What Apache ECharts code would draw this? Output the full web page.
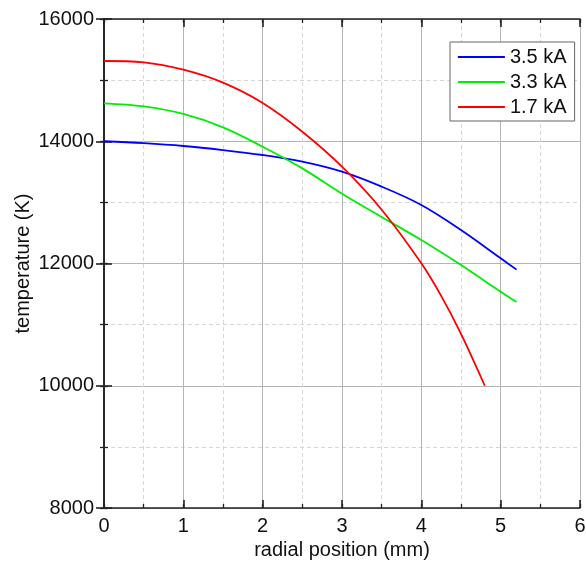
<!DOCTYPE html>
<html>
<head>
<meta charset="utf-8">
<script src="https://cdn.jsdelivr.net/npm/echarts@6/dist/echarts.min.js"></script>
<style>html,body{margin:0;padding:0;background:#fff}#c{width:586px;height:564px}</style>
</head>
<body>
<div id="c"></div>
<script>
const seriesNames = ['3.5 kA', '3.3 kA', '1.7 kA'];
const xBlue  = [0, 0.5, 1, 1.5, 2, 2.5, 3, 3.5, 4, 4.5, 5, 5.2];
const yBlue  = [14000, 13968, 13922, 13856, 13775, 13666, 13502, 13257, 12957, 12548, 12085, 11900];
const xGreen = [0, 0.5, 1, 1.5, 2, 2.5, 3, 3.5, 4, 4.5, 5, 5.2];
const yGreen = [14620, 14570, 14446, 14228, 13911, 13556, 13140, 12760, 12384, 11975, 11539, 11370];
const xRed   = [0, 0.5, 1, 1.5, 2, 2.5, 3, 3.5, 4, 4.25, 4.5, 4.8];
const yRed   = [15313, 15290, 15170, 14958, 14626, 14156, 13584, 12880, 12003, 11470, 10850, 10000];
const xTicks = [0, 1, 2, 3, 4, 5, 6];
const yTicks = [8000, 10000, 12000, 14000, 16000];

const pairs = (xs, ys) => xs.map((x, i) => [x, ys[i]]);
const FONT = 'Liberation Sans, Arial, sans-serif';
const chart = echarts.init(document.getElementById('c'), null, {renderer: 'canvas'});

const majorSplit = {show: true, lineStyle: {color: '#b4b4b4', width: 1, type: 'solid'}};
const minorSplit = {show: true, lineStyle: {color: '#d6d6d6', width: 1, type: [4, 3]}};
const axLine = {show: true, lineStyle: {color: '#222', width: 1.6}};
const tick = {show: true, inside: true, length: 8, lineStyle: {color: '#222', width: 1.6}};
const smallTick = {show: true, inside: true, length: 4, lineStyle: {color: '#222', width: 1.3}};

const xMin = xTicks[0], xMax = xTicks[xTicks.length - 1];
const yMin = yTicks[0], yMax = yTicks[yTicks.length - 1];
const xBase = {type: 'value', min: xMin, max: xMax, interval: 1};
const yBase = {type: 'value', min: yMin, max: yMax, interval: 2000};
const hidden = {axisLabel: {show: false}, splitLine: {show: false}};
const minorX = pos => ({type: 'value', min: xMin, max: xMax, interval: 0.5, position: pos,
  axisLine: {show: false}, axisTick: smallTick, axisLabel: {show: false}, splitLine: {show: false}});
const minorY = pos => ({type: 'value', min: yMin, max: yMax, interval: 1000, position: pos,
  axisLine: {show: false}, axisTick: smallTick, axisLabel: {show: false}, splitLine: {show: false}});

chart.setOption({
  animation: false,
  backgroundColor: '#fff',
  grid: {left: 104, right: 6, top: 19, bottom: 56, containLabel: false, outerBoundsMode: 'none'},
  legend: {
    data: seriesNames,
    orient: 'vertical',
    left: 450, top: 42,
    padding: [5, 8, 4, 7],
    itemWidth: 47, itemHeight: 20, itemGap: 5,
    borderColor: '#666', borderWidth: 1, borderRadius: 0,
    backgroundColor: '#fff',
    itemStyle: {opacity: 0},
    lineStyle: {width: 1.8, opacity: 1},
    textStyle: {fontFamily: FONT, fontSize: 20, color: '#111', lineHeight: 20}
  },
  xAxis: [
    Object.assign({}, xBase, {
      position: 'bottom',
      name: 'radial position (mm)', nameLocation: 'middle', nameGap: 28,
      nameTextStyle: {fontFamily: FONT, fontSize: 20, color: '#111'},
      axisLine: axLine, axisTick: tick, minorTick: {show: false, splitNumber: 2},
      axisLabel: {fontFamily: FONT, fontSize: 20, color: '#111', margin: 8},
      splitLine: majorSplit, minorSplitLine: minorSplit
    }),
    Object.assign({}, xBase, hidden, {position: 'top', axisLine: axLine, axisTick: tick}),
    minorX('bottom'),
    minorX('top')
  ],
  yAxis: [
    Object.assign({}, yBase, {
      position: 'left',
      name: 'temperature (K)', nameLocation: 'middle', nameGap: 71, nameRotate: 90,
      nameMoveOverlap: false,
      nameTextStyle: {fontFamily: FONT, fontSize: 20, color: '#111'},
      axisLine: axLine, axisTick: tick, minorTick: {show: false, splitNumber: 2},
      axisLabel: {fontFamily: FONT, fontSize: 20, color: '#111', margin: 10, formatter: v => String(v)},
      splitLine: majorSplit, minorSplitLine: minorSplit
    }),
    Object.assign({}, yBase, hidden, {position: 'right', axisLine: axLine, axisTick: tick}),
    minorY('left'),
    minorY('right')
  ],
  series: [
    {name: seriesNames[0], type: 'line', data: pairs(xBlue, yBlue), smooth: 0.35, symbol: 'none',
     lineStyle: {color: '#0000ff', width: 1.8}, itemStyle: {color: '#0000ff'}},
    {name: seriesNames[1], type: 'line', data: pairs(xGreen, yGreen), smooth: 0.35, symbol: 'none',
     lineStyle: {color: '#00ee00', width: 1.8}, itemStyle: {color: '#00ee00'}},
    {name: seriesNames[2], type: 'line', data: pairs(xRed, yRed), smooth: 0.35, symbol: 'none',
     lineStyle: {color: '#ff0000', width: 1.8}, itemStyle: {color: '#ff0000'}}
  ]
});
</script>
</body>
</html>
